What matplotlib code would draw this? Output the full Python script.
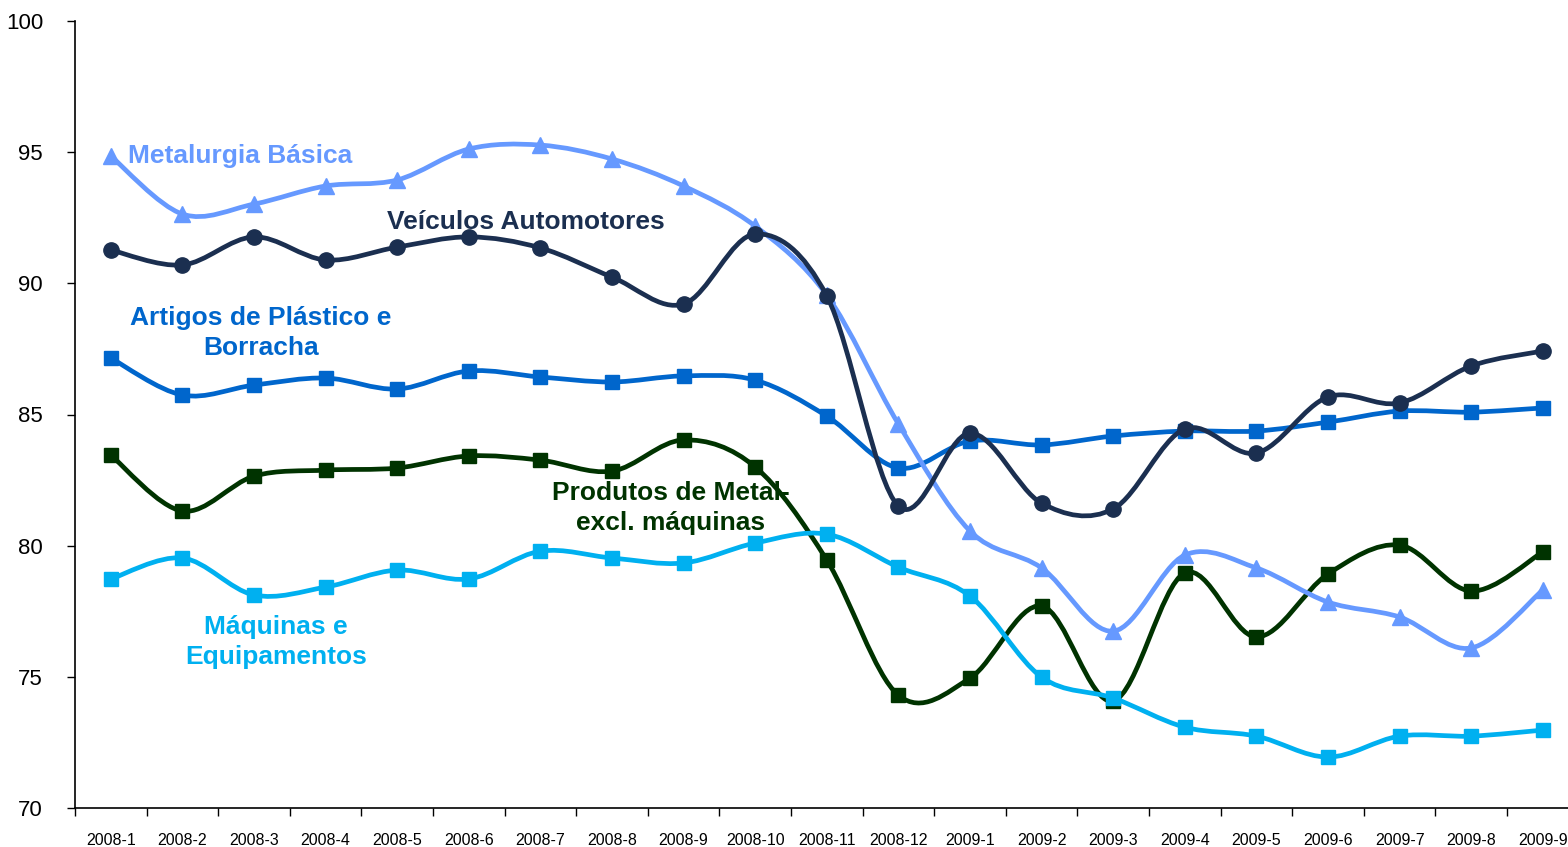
import numpy as np
import matplotlib.pyplot as plt
from matplotlib.path import Path
from matplotlib.patches import PathPatch

plt.rcParams['font.family'] = ['Liberation Sans', 'DejaVu Sans']

meses = ['2008-1', '2008-2', '2008-3', '2008-4', '2008-5', '2008-6', '2008-7',
         '2008-8', '2008-9', '2008-10', '2008-11', '2008-12', '2009-1', '2009-2',
         '2009-3', '2009-4', '2009-5', '2009-6', '2009-7', '2009-8', '2009-9']

metalurgia = [94.85, 92.64, 93.02, 93.71, 93.94, 95.12, 95.27, 94.74, 93.71, 92.18,
              89.55, 84.64, 80.56, 79.15, 76.74, 79.64, 79.15, 77.85, 77.28, 76.10, 78.31]
veiculos = [91.27, 90.70, 91.77, 90.89, 91.38, 91.77, 91.35, 90.24, 89.21, 91.88,
            89.52, 81.51, 84.29, 81.62, 81.40, 84.45, 83.53, 85.67, 85.44, 86.85, 87.42]
plastico = [87.15, 85.74, 86.12, 86.39, 85.97, 86.66, 86.43, 86.24, 86.47, 86.31,
            84.94, 82.96, 83.99, 83.84, 84.18, 84.37, 84.37, 84.71, 85.13, 85.09, 85.25]
metal = [83.45, 81.32, 82.65, 82.88, 82.96, 83.42, 83.26, 82.84, 84.03, 83.00,
         79.45, 74.30, 74.95, 77.70, 74.08, 78.96, 76.52, 78.92, 80.02, 78.27, 79.76]
maquinas = [78.73, 79.53, 78.12, 78.42, 79.07, 78.73, 79.79, 79.53, 79.34, 80.10,
            80.44, 79.18, 78.08, 74.99, 74.19, 73.08, 72.74, 71.94, 72.74, 72.74, 72.97]


def curva(ax, y, cor, marker, ms, z):
    # linha suavizada tipo Excel (bezier pelos pontos)
    x = np.arange(len(y), dtype=float)
    p = np.column_stack((x, np.array(y, dtype=float)))
    n = len(p)
    verts = [p[0]]
    codes = [Path.MOVETO]
    for i in range(n - 1):
        p0 = p[max(i - 1, 0)]
        p3 = p[min(i + 2, n - 1)]
        c1 = p[i] + (p[i + 1] - p0) / 6
        c2 = p[i + 1] - (p3 - p[i]) / 6
        verts += [c1, c2, p[i + 1]]
        codes += [Path.CURVE4] * 3
    patch = PathPatch(Path(verts, codes), fill=False, edgecolor=cor, lw=3.4,
                      capstyle='round', joinstyle='round', zorder=z)
    ax.add_patch(patch)
    ax.plot(x, y, linestyle='none', marker=marker, ms=ms, color=cor, zorder=z + 0.5)


fig = plt.figure(figsize=(15.68, 8.47), dpi=100)
ax = fig.add_axes([75 / 1568, 39 / 847, 21 * 71.6 / 1568, 787 / 847])

curva(ax, metal, '#003300', 's', 10.5, 2)
curva(ax, maquinas, '#00B0F0', 's', 10, 3)
curva(ax, plastico, '#0066CC', 's', 10, 4)
curva(ax, metalurgia, '#6699FF', '^', 11, 5)
curva(ax, veiculos, '#1B2F50', 'o', 11, 6)

ax.set_xlim(-0.5, 20.5)
ax.set_ylim(70, 100)
ax.set_yticks(np.arange(70, 101, 5))
ax.tick_params(axis='y', direction='out', length=6, width=1, labelsize=16, pad=17)
ax.set_xticks(range(len(meses)))
ax.set_xticklabels(meses)
ax.set_xticks(np.arange(-0.5, 21, 1), minor=True)
ax.tick_params(axis='x', which='major', length=0, labelsize=11.5, pad=18)
ax.tick_params(axis='x', which='minor', length=6, width=1, direction='out')

for s in ['top', 'right']:
    ax.spines[s].set_visible(False)
for s in ['left', 'bottom']:
    ax.spines[s].set_linewidth(1.2)

fs = 19
ax.text(0.24, 94.85, 'Metalurgia Básica', color='#6699FF', fontsize=fs,
        fontweight='bold', ha='left', va='center')
ax.text(5.80, 92.34, 'Veículos Automotores', color='#1B2F50', fontsize=fs,
        fontweight='bold', ha='center', va='center')
ax.text(2.10, 88.11, 'Artigos de Plástico e\nBorracha', color='#0066CC', fontsize=fs,
        fontweight='bold', ha='center', va='center', linespacing=1.3)
ax.text(7.82, 81.43, 'Produtos de Metal-\nexcl. máquinas', color='#003300', fontsize=fs,
        fontweight='bold', ha='center', va='center', linespacing=1.3, zorder=10)
ax.text(2.31, 76.32, 'Máquinas e\nEquipamentos', color='#00B0F0', fontsize=fs,
        fontweight='bold', ha='center', va='center', linespacing=1.3)

fig.savefig('out.png', dpi=100)
